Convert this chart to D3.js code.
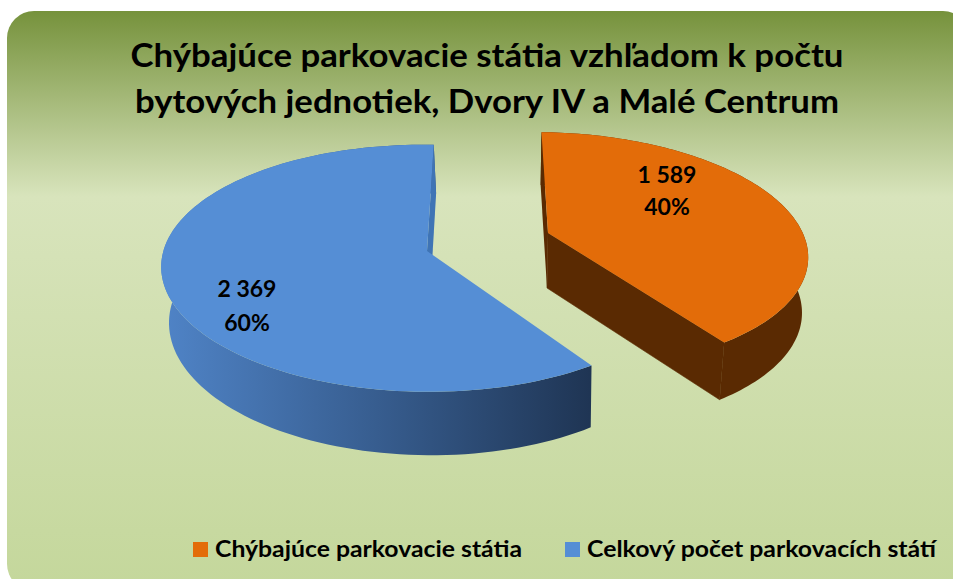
<!DOCTYPE html>
<html>
<head>
<meta charset="utf-8">
<script src="https://cdn.jsdelivr.net/npm/d3@7"></script>
<style>
  html, body { margin: 0; padding: 0; background: #fff; }
  svg { display: block; }
  text { font-family: Lato, "Open Sans", sans-serif; font-weight: 700; fill: #000; }
</style>
</head>
<body>
<script>
const width = 953;
const height = 579;

const categories = ["Chýbajúce parkovacie státia", "Celkový počet parkovacích státí"];
const values = [1589, 2369];
const valueLabels = ["1 589", "2 369"];
const percentLabels = ["40%", "60%"];
const titleLines = ["Chýbajúce parkovacie státia vzhľadom k počtu", "bytových jednotiek, Dvory IV a Malé Centrum"];
const colors = ["#e36c09", "#558ed5"];

// how each slice is seen: apex on screen, tilt terms and the shift to the under side
const views = [
  { ax: 548, ay: 233, rx: 256, ry: 116, sx: 7.5, ty: 3, k: 0.15, m: 0, dx: -1, dy: 55, bx: 0.98, by: 1.02 },
  { ax: 427, ay: 251, rx: 262, ry: 121, sx: -7.7, ty: 5, k: 0.14, m: 0, dx: 2.5, dy: 55, bx: 0.98, by: 1.06 }
];
const labelPos = [[667, 183, 215], [247, 297, 331]];
const titleWidths = [713, 704];
const legendWidths = [307, 349];

const svg = d3.select("body").append("svg")
  .attr("width", width)
  .attr("height", height);

const defs = svg.append("defs");

const bg = defs.append("linearGradient")
  .attr("id", "bg")
  .attr("x1", 0).attr("x2", 0).attr("y1", 0).attr("y2", 1);
bg.append("stop").attr("offset", "0%").attr("stop-color", "#76923c");
bg.append("stop").attr("offset", "32%").attr("stop-color", "#d8e4bc");
bg.append("stop").attr("offset", "100%").attr("stop-color", "#c4d79b");

const side = defs.append("linearGradient")
  .attr("id", "blueSide")
  .attr("gradientUnits", "userSpaceOnUse")
  .attr("x1", 165).attr("x2", 590).attr("y1", 0).attr("y2", 0);
side.append("stop").attr("offset", "0%").attr("stop-color", "#4f83c6");
side.append("stop").attr("offset", "50%").attr("stop-color", "#375d8f");
side.append("stop").attr("offset", "100%").attr("stop-color", "#1f3554");

svg.append("rect")
  .attr("x", 7).attr("y", 11)
  .attr("width", 963).attr("height", 580)
  .attr("rx", 27).attr("ry", 27)
  .attr("fill", "url(#bg)");

svg.append("g").selectAll("text")
  .data(titleLines)
  .join("text")
  .attr("x", 487)
  .attr("y", (d, i) => 67 + i * 45.5)
  .attr("text-anchor", "middle")
  .attr("font-size", 33)
  .attr("textLength", (d, i) => titleWidths[i])
  .attr("lengthAdjust", "spacingAndGlyphs")
  .text(d => d);

const pie = d3.pie().sort(null);
const arcs = pie(values);
const line = d3.line();

function project(v, a, r) {
  const u = r * Math.sin(a);
  const w = -r * Math.cos(a);
  const d = 1 - v.k * w - v.m * u;
  return [v.ax + (v.rx * u + v.sx * w) / d, v.ay + (v.ry * w + v.ty * u) / d];
}

function under(v, p) {
  return [v.ax + (p[0] - v.ax) * v.bx + v.dx, v.ay + (p[1] - v.ay) * v.by + v.dy];
}

function rim(v, d) {
  return d3.range(0, 121).map(i => project(v, d.startAngle + (d.endAngle - d.startAngle) * i / 120, 1));
}

const sideFill = ["#5a2a02", "url(#blueSide)"];
const wallFill = ["#5a2a02", "#3f74b5"];

arcs.forEach(function(d, i) {
  const v = views[i];
  const top = rim(v, d);
  const bottom = top.map(p => under(v, p));
  const apex = [v.ax, v.ay];
  const apexB = under(v, apex);
  const g = svg.append("g");

  g.append("path")
    .attr("d", line(top.concat(bottom.slice().reverse())) + "Z")
    .attr("fill", sideFill[i]);

  // the wall at twelve o'clock, first point of orange and last of blue
  const c = i === 0 ? 0 : 120;
  g.append("path")
    .attr("d", line([apex, top[c], bottom[c], apexB]) + "Z")
    .attr("fill", wallFill[i]);

  // only the orange slice shows its front wall
  if (i === 0) {
    g.append("path")
      .attr("d", line([apex, top[120], bottom[120], apexB]) + "Z")
      .attr("fill", wallFill[i])
      .attr("stroke", wallFill[i])
      .attr("stroke-width", 0.6);
  }

  g.append("path")
    .attr("d", line([apex].concat(top)) + "Z")
    .attr("fill", colors[i]);

  g.append("text")
    .attr("x", labelPos[i][0]).attr("y", labelPos[i][1])
    .attr("text-anchor", "middle")
    .attr("font-size", 23)
    .text(valueLabels[i]);

  g.append("text")
    .attr("x", labelPos[i][0]).attr("y", labelPos[i][2])
    .attr("text-anchor", "middle")
    .attr("font-size", 23)
    .text(percentLabels[i]);
});

const legendX = [193, 565];
const legend = svg.append("g").selectAll("g")
  .data(categories)
  .join("g")
  .attr("transform", (d, i) => "translate(" + legendX[i] + ",542)");

legend.append("rect")
  .attr("width", 15).attr("height", 15)
  .attr("fill", (d, i) => colors[i]);

legend.append("text")
  .attr("x", 22).attr("y", 15)
  .attr("font-size", 22.5)
  .attr("textLength", (d, i) => legendWidths[i])
  .attr("lengthAdjust", "spacingAndGlyphs")
  .text(d => d);
</script>
</body>
</html>
